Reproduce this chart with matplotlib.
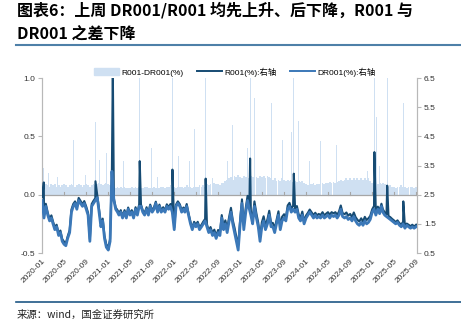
import matplotlib.pyplot as plt
import matplotlib.patches as mpatches
from matplotlib.lines import Line2D
import numpy as np
import pandas as pd

plt.rcParams["font.family"] = ["Liberation Sans", "Noto Sans CJK SC"]

# sample dates: 1st / 11th / 21st of every month
grid_dates = pd.to_datetime(
    [f"{y}-{m:02d}-{d:02d}" for y in range(2020, 2026) for m in range(1, 13) for d in (1, 11, 21)]
)
grid_dates = grid_dates[grid_dates <= "2025-09-01"]

# DR001 (%), three readings per month
dr001 = [
    2.3, 1.7, 2.1, 1.8, 1.6, 1.7, 1.5, 1.3, 1.4, 1.1, 1.2, 0.9,      # 2020
    0.8, 0.75, 1.0, 1.2, 1.9, 2.1, 2.2, 2.0, 2.3, 2.2, 2.1, 2.2,
    2.0, 1.8, 0.9, 2.1, 2.2, 2.3, 2.4, 1.9, 1.4, 1.6, 1.0, 0.7,
    0.6, 0.9, 3.3, 2.3, 2.0, 1.9, 1.8, 1.9, 1.7, 1.9, 1.7, 2.0,      # 2021
    1.8, 1.9, 1.7, 2.0, 1.8, 2.1, 2.1, 1.9, 1.8, 2.0, 1.8, 2.1,
    1.9, 2.0, 2.2, 1.9, 2.1, 1.9, 2.0, 1.9, 2.1, 2.0, 2.1, 1.9,
    1.3, 2.1, 2.2, 2.1, 1.9, 2.0, 1.9, 2.1, 1.8, 1.5, 1.3, 1.5,      # 2022
    1.4, 1.5, 1.3, 1.4, 1.5, 1.6, 1.4, 1.2, 1.3, 1.1, 1.2, 1.0,
    1.2, 1.1, 1.7, 1.3, 1.5, 1.2, 1.6, 1.9, 1.5, 1.2, 0.9, 0.6,
    1.5, 2.2, 1.3, 1.9, 2.3, 2.0, 1.8, 1.5, 2.1, 1.7, 1.4, 0.9,      # 2023
    1.4, 1.6, 1.3, 1.5, 1.8, 1.4, 1.4, 1.2, 1.5, 1.8, 1.3, 1.6,
    1.7, 1.6, 2.0, 2.1, 1.9, 2.0, 1.9, 2.0, 1.7, 1.6, 1.8, 1.5,
    1.7, 1.8, 1.9, 1.8, 1.7, 1.8, 1.7, 1.75, 1.7, 1.8, 1.7, 1.75,    # 2024
    1.8, 1.7, 1.8, 1.75, 1.8, 1.7, 1.8, 2.0, 1.75, 1.7, 1.75, 1.65,
    1.7, 1.6, 1.75, 1.6, 1.5, 1.45, 1.55, 1.45, 1.6, 1.5, 1.55, 1.65,
    1.9, 2.0, 1.8, 2.0, 1.85, 2.1, 1.9, 1.8, 1.75, 1.7, 1.65, 1.6,   # 2025
    1.55, 1.5, 1.55, 1.45, 1.4, 1.5, 1.35, 1.45, 1.4, 1.35, 1.4, 1.35,
    1.4,
]

# R001-DR001 (%), same sample dates
spread = [
    .12, .10, .09, .08, .07, .09, .08, .09, .07, .08, .07, .08,      # 2020
    .09, .08, .07, .08, .09, .08, .07, .08, .09, .08, .07, .08,
    .09, .08, .07, .08, .09, .08, .09, .10, .09, .08, .09, .10,
    .09, .08, .10, .07, .06, .07, .06, .07, .06, .07, .06, .06,      # 2021
    .06, .07, .06, .07, .06, .07, .06, .06, .07, .07, .06, .06,
    .06, .07, .06, .06, .06, .07, .07, .06, .07, .07, .08, .07,
    .07, .06, .07, .07, .07, .06, .07, .08, .07, .07, .06, .07,      # 2022
    .07, .07, .08, .07, .08, .07, .09, .08, .09, .09, .10, .09,
    .09, .08, .10, .10, .12, .13, .14, .15, .13, .16, .15, .17,
    .15, .14, .16, .15, .16, .14, .16, .15, .17, .15, .14, .16,      # 2023
    .15, .16, .14, .16, .15, .14, .13, .14, .12, .13, .12, .14,
    .13, .12, .13, .12, .13, .11, .12, .11, .12, .11, .12, .10,
    .09, .08, .09, .09, .10, .08, .09, .09, .10, .10, .09, .10,      # 2024
    .10, .11, .10, .11, .10, .11, .12, .13, .12, .13, .14, .13,
    .14, .13, .14, .13, .14, .13, .14, .13, .14, .13, .14, .12,
    .10, .11, .10, .09, .10, .09, .10, .09, .08, .07, .08, .07,      # 2025
    .07, .06, .07, .07, .08, .07, .07, .06, .07, .07, .07, .06,
    .07,
]

# single-day jumps of the spread, with the R001 print where it shows
spike_dates = pd.to_datetime([
    "2020-01-10", "2020-02-06", "2020-03-25", "2020-06-22", "2020-08-28", "2020-10-22",
    "2020-11-15", "2020-12-22", "2021-01-26", "2021-03-26", "2021-06-24", "2021-08-28",
    "2021-10-01", "2021-12-22", "2022-01-25", "2022-03-25", "2022-04-22", "2022-06-24",
    "2022-08-01", "2022-09-28", "2022-10-25", "2022-11-22", "2023-01-22", "2023-02-13",
    "2023-02-25", "2023-03-22", "2023-06-25", "2023-08-25", "2023-10-13", "2023-10-25",
    "2023-11-22", "2024-01-22", "2024-03-22", "2024-06-19", "2024-09-22", "2024-12-04",
    "2024-12-31", "2025-01-13", "2025-01-25", "2025-02-09", "2025-03-25", "2025-06-22",
    "2025-07-18",
])
spike_spread = [
    0.23, 0.19, 0.15, 0.47, 0.17, 0.62,
    0.30, 0.36, 1.20, 0.29, 1.20, 0.40,
    0.15, 1.20, 0.33, 0.29, 0.56, 1.20,
    0.14, 0.18, 0.29, 0.60, 0.40, 0.40,
    1.20, 0.83, 0.79, 0.47, 0.54, 1.20,
    0.63, 0.29, 0.46, 0.43, 0.24, 0.20,
    0.50, 1.20, 0.67, 0.25, 1.05, 0.79,
    0.14,
]
nan = np.nan
spike_r001 = [
    2.92, nan, nan, nan, nan, 2.96,
    nan, nan, 6.80, nan, 3.65, nan,
    nan, 3.36, nan, nan, nan, 3.05,
    nan, nan, nan, nan, nan, nan,
    3.74, nan, nan, nan, nan, 3.22,
    nan, nan, nan, nan, nan, nan,
    nan, 3.96, nan, nan, 2.81, 2.27,
    nan,
]

tick_dates = pd.date_range("2020-01-01", "2025-09-01", freq="4MS")

dr001 = np.array(dr001)
spread = np.array(spread)
r001_base = pd.Series(dr001 + spread, index=grid_dates)
r001_spikes = pd.Series(spike_r001, index=spike_dates).dropna()
r001 = pd.concat([r001_base, r001_spikes]).sort_index()

c_bar = "#cfe0f2"
c_r001 = "#164b73"
c_dr001 = "#3b78b8"
c_axis = "#b8b8b8"

fig = plt.figure(figsize=(4.61, 3.24), dpi=100)
ax = fig.add_axes([0.0911, 0.2191, 0.8135, 0.5401])
ax2 = ax.twinx()

ax.bar(grid_dates, spread, width=10.2, color=c_bar, linewidth=0, zorder=1)
ax.bar(spike_dates, spike_spread, width=5, color=c_bar, linewidth=0, zorder=1)
ax.axhline(0, color="#a6a6a6", linewidth=0.9, zorder=2)

ax2.plot(r001.index, r001.values, color=c_r001, linewidth=1.5, zorder=3)
ax2.plot(grid_dates, dr001, color=c_dr001, linewidth=2.0, zorder=4)

ax.set_xlim(pd.Timestamp("2019-12-31"), pd.Timestamp("2025-09-06"))
ax.set_ylim(-0.5, 1.0)
ax2.set_ylim(0.5, 6.5)
ax.set_yticks([-0.5, 0.0, 0.5, 1.0])
ax.set_yticklabels(["-0.5", "0.0", "0.5", "1.0"])
ax2.set_yticks([0.5, 1.5, 2.5, 3.5, 4.5, 5.5, 6.5])
ax2.set_yticklabels(["0.5", "1.5", "2.5", "3.5", "4.5", "5.5", "6.5"])

for a in (ax, ax2):
    a.spines["top"].set_visible(False)
    a.spines["bottom"].set_visible(False)
    a.spines["left"].set_color(c_axis)
    a.spines["right"].set_color(c_axis)
    a.tick_params(axis="y", labelsize=6, colors="#333333", length=3, width=0.8, pad=2)
    a.tick_params(axis="y", color=c_axis)

# date ticks sit on the zero line, labels stay under the plot
ax.set_xticks(tick_dates)
ax.tick_params(axis="x", bottom=False, labelbottom=False)
for d in tick_dates:
    ax.plot([d, d], [0, 0.02], color="#a6a6a6", linewidth=0.8, zorder=2)
    ax.text(d, -0.025, d.strftime("%Y-%m"), transform=ax.get_xaxis_transform(),
            rotation=45, ha="right", va="top", rotation_mode="anchor",
            fontsize=6, color="#333333")

handles = [
    mpatches.Patch(color=c_bar, label="R001-DR001(%)"),
    Line2D([], [], color=c_r001, linewidth=1.4, label="R001(%):右轴"),
    Line2D([], [], color=c_dr001, linewidth=1.4, label="DR001(%):右轴"),
]
fig.legend(handles=handles, loc="center", bbox_to_anchor=(0.51, 0.778), ncol=3,
           frameon=False, fontsize=6, handlelength=3, handleheight=0.9,
           columnspacing=1.6, handletextpad=0.3)

title_font = ["Noto Sans CJK SC"]
fig.text(0.037, 0.969, "图表6：上周 DR001/R001 均先上升、后下降，R001 与",
         fontsize=11.5, fontweight="bold", family=title_font, va="center")
fig.text(0.037, 0.897, "DR001 之差下降",
         fontsize=11.5, fontweight="bold", family=title_font, va="center")
fig.add_artist(Line2D([0.035, 1.0], [0.861, 0.861], color="#4e80a8", linewidth=1.5))
fig.add_artist(Line2D([0.035, 1.0], [0.068, 0.068], color="#1f5785", linewidth=1.2))
fig.text(0.037, 0.028, "来源：wind，国金证券研究所", fontsize=7.5,
         family=["Noto Sans CJK SC"], color="#222222", va="center")

fig.savefig("out.png", dpi=100)
